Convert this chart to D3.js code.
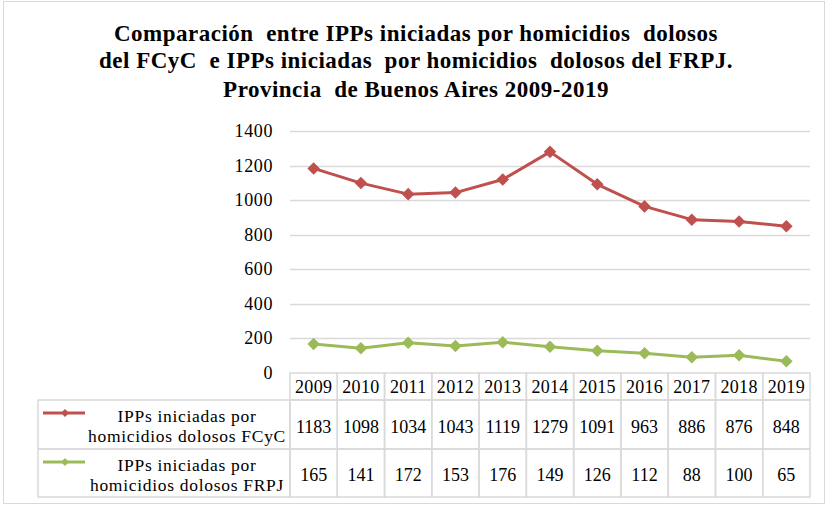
<!DOCTYPE html>
<html>
<head>
<meta charset="utf-8">
<script src="https://cdn.jsdelivr.net/npm/d3@7"></script>
<style>
  body { margin: 0; background: #fff; }
  svg text { font-family: "Liberation Serif", Tinos, "Times New Roman", Times, "DejaVu Serif", serif; }
</style>
</head>
<body>
<svg id="chart" width="828" height="507"></svg>
<script>
const years = ['2009', '2010', '2011', '2012', '2013', '2014', '2015', '2016', '2017', '2018', '2019'];
const fcycValues = [1183, 1098, 1034, 1043, 1119, 1279, 1091, 963, 886, 876, 848];
const frpjValues = [165, 141, 172, 153, 176, 149, 126, 112, 88, 100, 65];
const yTicks = [0, 200, 400, 600, 800, 1000, 1200, 1400];
const titleLines = [
  'Comparación  entre IPPs iniciadas por homicidios  dolosos',
  'del FCyC  e IPPs iniciadas  por homicidios  dolosos del FRPJ.',
  'Provincia  de Buenos Aires 2009-2019'
];
const series = [
  { label: ['IPPs iniciadas por', 'homicidios dolosos FCyC'], values: fcycValues, color: '#C0504D' },
  { label: ['IPPs iniciadas por', 'homicidios dolosos FRPJ'], values: frpjValues, color: '#9BBB59' }
];

const svg = d3.select('#chart');
const gridColor = '#D9D9D9';
const serif = '"Liberation Serif", Tinos, "Times New Roman", Times, "DejaVu Serif", serif';

// outer frame
svg.append('rect')
  .attr('x', 3.5).attr('y', 1.5)
  .attr('width', 821).attr('height', 502)
  .attr('fill', 'none').attr('stroke', gridColor);

// title
svg.append('g')
  .selectAll('text')
  .data(titleLines)
  .join('text')
  .attr('x', 416)
  .attr('y', (d, i) => [41, 68, 97][i])
  .attr('text-anchor', 'middle')
  .attr('font-family', serif)
  .attr('font-size', 23)
  .attr('font-weight', 'bold')
  .attr('letter-spacing', 0.5)
  .attr('fill', '#000')
  .style('white-space', 'pre')
  .text(d => d);

const x = d3.scaleBand().domain(years).range([290, 810]);
const y = d3.scaleLinear().domain([0, 1400]).range([372.5, 131]);

// gridlines
svg.append('g')
  .selectAll('line')
  .data(yTicks.filter(d => d > 0))
  .join('line')
  .attr('x1', 290).attr('x2', 810)
  .attr('y1', d => Math.round(y(d)) + 0.5)
  .attr('y2', d => Math.round(y(d)) + 0.5)
  .attr('stroke', gridColor)
  .attr('stroke-width', 1.5);

// y axis labels
const yAxis = d3.axisLeft(y).tickValues(yTicks).tickFormat(d3.format('d')).tickSize(0).tickPadding(17);
svg.append('g')
  .attr('transform', 'translate(290,0)')
  .call(yAxis)
  .attr('font-family', serif)
  .attr('font-size', 18)
  .call(g => g.select('.domain').remove())
  .call(g => g.selectAll('text').attr('fill', '#000').attr('letter-spacing', 0.6));

// lines and markers
const lineGen = d3.line()
  .x((d, i) => x(years[i]) + x.bandwidth() / 2)
  .y(d => y(d));

const diamond = d3.symbol().type(d3.symbolDiamond2).size(100);

series.forEach(s => {
  svg.append('path')
    .attr('d', lineGen(s.values))
    .attr('fill', 'none')
    .attr('stroke', s.color)
    .attr('stroke-width', 3)
    .attr('stroke-linejoin', 'round');
  svg.append('g')
    .selectAll('path')
    .data(s.values)
    .join('path')
    .attr('transform', (d, i) => `translate(${x(years[i]) + x.bandwidth() / 2},${y(d)})`)
    .attr('d', diamond)
    .attr('fill', s.color);
});

// data table
const tableTop = 373;
const rowHeights = [27, 49, 48];
const rowTops = [tableTop, tableTop + rowHeights[0], tableTop + rowHeights[0] + rowHeights[1]];
const leftX = 38;
const table = svg.append('g').attr('font-family', serif).attr('font-size', 18);

// year header cells
table.selectAll('rect.head')
  .data(years)
  .join('rect')
  .attr('class', 'head')
  .attr('x', d => x(d)).attr('y', rowTops[0])
  .attr('width', x.bandwidth()).attr('height', rowHeights[0])
  .attr('fill', 'none').attr('stroke', gridColor).attr('stroke-width', 1.5);

table.selectAll('text.head')
  .data(years)
  .join('text')
  .attr('class', 'head')
  .attr('x', d => x(d) + x.bandwidth() / 2)
  .attr('y', rowTops[0] + 20)
  .attr('text-anchor', 'middle')
  .attr('letter-spacing', 0.3)
  .text(d => d);

series.forEach((s, r) => {
  const top = rowTops[r + 1];
  const h = rowHeights[r + 1];
  // label cell
  table.append('rect')
    .attr('x', leftX).attr('y', top)
    .attr('width', 290 - leftX).attr('height', h)
    .attr('fill', 'none').attr('stroke', gridColor).attr('stroke-width', 1.5);
  // legend key
  const ky = top + 13;
  table.append('line')
    .attr('x1', 43).attr('x2', 85)
    .attr('y1', ky).attr('y2', ky)
    .attr('stroke', s.color).attr('stroke-width', 3);
  table.append('path')
    .attr('transform', `translate(65,${ky})`)
    .attr('d', d3.symbol().type(d3.symbolDiamond2).size(40))
    .attr('fill', s.color);
  table.append('g')
    .selectAll('text')
    .data(s.label)
    .join('text')
    .attr('x', 187)
    .attr('y', (d, i) => top + 22 + i * 20)
    .attr('text-anchor', 'middle')
    .attr('font-size', 17.5)
    .attr('letter-spacing', 0.7)
    .text(d => d);
  // value cells
  table.append('g')
    .selectAll('rect')
    .data(years)
    .join('rect')
    .attr('x', d => x(d)).attr('y', top)
    .attr('width', x.bandwidth()).attr('height', h)
    .attr('fill', 'none').attr('stroke', gridColor).attr('stroke-width', 1.5);
  table.append('g')
    .selectAll('text')
    .data(s.values)
    .join('text')
    .attr('x', (d, i) => x(years[i]) + x.bandwidth() / 2)
    .attr('y', top + h / 2 + 8)
    .attr('text-anchor', 'middle')
    .text(d => d);
});
</script>
</body>
</html>
